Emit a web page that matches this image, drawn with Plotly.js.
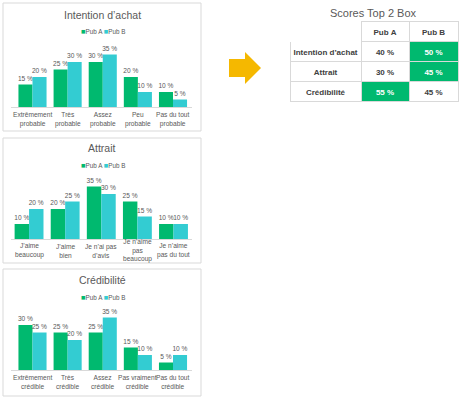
<!DOCTYPE html>
<html>
<head>
<meta charset="utf-8">
<script src="https://cdn.plot.ly/plotly-3.0.1.min.js"></script>
<style>html,body{margin:0;padding:0;background:#fff;}#chart{width:460px;height:400px;}</style>
</head>
<body>
<div id="chart"></div>
<script>
// ---- data ----
const seriesNames = ['Pub A', 'Pub B'];
const seriesColors = ['#00B96F', '#33CCD2'];

const titleIntention = 'Intention d’achat';
const catsIntention = ['Extrêmement<br>probable', 'Très<br>probable', 'Assez<br>probable', 'Peu<br>probable', 'Pas du tout<br>probable'];
const intentionA = [15, 25, 30, 20, 10];
const intentionB = [20, 30, 35, 10, 5];

const titleAttrait = 'Attrait';
const catsAttrait = ['J’aime<br>beaucoup', 'J’aime<br>bien', 'Je n’ai pas<br>d’avis', 'Je n’aime<br>pas<br>beaucoup', 'Je n’aime<br>pas du tout'];
const attraitA = [10, 20, 35, 25, 10];
const attraitB = [20, 25, 30, 15, 10];

const titleCredibilite = 'Crédibilité';
const catsCredibilite = ['Extrêmement<br>crédible', 'Très<br>crédible', 'Assez<br>crédible', 'Pas vraiment<br>crédible', 'Pas du tout<br>crédible'];
const credibiliteA = [30, 25, 25, 15, 5];
const credibiliteB = [25, 20, 35, 10, 10];

const tableTitle = 'Scores Top 2 Box';
const tableRows = ['Intention d’achat', 'Attrait', 'Crédibilité'];
const top2A = [40, 30, 55];
const top2B = [50, 45, 45];

// ---- helpers ----
const W = 460, H = 400;
const px = x => x / W;
const py = y => 1 - y / H;
const FONT = 'Liberation Sans, Arial, sans-serif';
const GREY = '#595959';
const LINE = '#D9D9D9';
const nb = s => String(s).replace(/ /g, '\u00a0');

const panels = [
  {title: titleIntention, cats: catsIntention, a: intentionA, b: intentionB, box: [3, 3, 201, 131], titleY: 15, legY: 32, base: 107},
  {title: titleAttrait, cats: catsAttrait, a: attraitA, b: attraitB, box: [3, 138, 201, 263], titleY: 148, legY: 165, base: 239},
  {title: titleCredibilite, cats: catsCredibilite, a: credibiliteA, b: credibiliteB, box: [3, 269, 201, 396], titleY: 280, legY: 297, base: 370}
];

const data = [];
const layout = {
  width: W, height: H,
  margin: {l: 0, r: 0, t: 0, b: 0},
  paper_bgcolor: '#fff', plot_bgcolor: 'rgba(0,0,0,0)',
  showlegend: false,
  barmode: 'group', bargap: 0.2, bargroupgap: 0,
  font: {family: FONT, color: GREY},
  hovermode: false,
  shapes: [], annotations: []
};

panels.forEach((p, i) => {
  const n = i + 1;
  const xa = n === 1 ? 'x' : 'x' + n;
  const ya = n === 1 ? 'y' : 'y' + n;
  [p.a, p.b].forEach((vals, k) => {
    data.push({
      type: 'bar', x: p.cats, y: vals, name: seriesNames[k],
      xaxis: xa, yaxis: ya,
      marker: {color: seriesColors[k]},
      text: vals.map(v => v + ' %'),
      textposition: 'outside', constraintext: 'none', cliponaxis: false,
      textfont: {size: 6.6, color: GREY, family: FONT},
      hoverinfo: 'skip'
    });
  });
  const top = p.base - 60;
  layout['xaxis' + (n === 1 ? '' : n)] = {
    domain: [px(11), px(192)], anchor: ya, type: 'category',
    showline: true, linecolor: LINE, linewidth: 1, ticks: '', showgrid: false, zeroline: false,
    showticklabels: false, fixedrange: true
  };
  layout['yaxis' + (n === 1 ? '' : n)] = {
    domain: [py(p.base), py(top)], anchor: xa, range: [0, 40],
    visible: false, showgrid: false, zeroline: false, fixedrange: true
  };
  // category labels, placed on the category axis scale, vertically centred like the original
  p.cats.forEach(c => {
    layout.annotations.push({xref: xa, yref: 'paper', x: c, y: py(p.base + 12), text: c,
      showarrow: false, xanchor: 'center', yanchor: 'middle', align: 'center',
      font: {size: 6.6, color: GREY, family: FONT}});
  });
  const [x0, y0, x1, y1] = p.box;
  layout.shapes.push({type: 'rect', xref: 'paper', yref: 'paper', x0: px(x0), x1: px(x1), y0: py(y1), y1: py(y0),
    line: {color: LINE, width: 1}, fillcolor: 'rgba(0,0,0,0)', layer: 'below'});
  layout.annotations.push({xref: 'paper', yref: 'paper', x: px(102), y: py(p.titleY), text: p.title,
    showarrow: false, xanchor: 'center', yanchor: 'middle', font: {size: 10.5, color: GREY, family: FONT}});
  const legText = seriesNames.map((s, k) => '<span style="color:' + seriesColors[k] + ';font-size:7.5px">■</span>' + s).join(' ');
  layout.annotations.push({xref: 'paper', yref: 'paper', x: px(103), y: py(p.legY), text: legText,
    showarrow: false, xanchor: 'center', yanchor: 'middle', font: {size: 6.3, color: GREY, family: FONT}});
});

// arrow
layout.shapes.push({type: 'path', xref: 'paper', yref: 'paper',
  path: `M${px(229)},${py(59)} L${px(245)},${py(59)} L${px(245)},${py(52)} L${px(261)},${py(68)} L${px(245)},${py(84)} L${px(245)},${py(77)} L${px(229)},${py(77)} Z`,
  fillcolor: '#F5B800', line: {width: 0}});

// table
const GREEN = seriesColors[0];
const DARK = '#404040';
const colA = top2A.map((v, r) => v > top2B[r]);
const colB = top2B.map((v, r) => v > top2A[r]);
data.push({
  type: 'table',
  domain: {x: [px(290), px(458)], y: [py(103), py(21)]},
  columnwidth: [71, 48, 49],
  header: {
    values: ['', nb(seriesNames[0]), nb(seriesNames[1])],
    height: 20, align: 'center',
    line: {color: ['#ffffff', LINE, LINE], width: 1},
    fill: {color: '#ffffff'},
    font: {size: 8, color: DARK, family: FONT, weight: 'bold'}
  },
  cells: {
    values: [tableRows.map(nb), top2A.map(v => nb(v + ' %')), top2B.map(v => nb(v + ' %'))],
    height: 20, align: 'center',
    line: {color: LINE, width: 1},
    fill: {color: [tableRows.map(() => '#ffffff'), colA.map(g => g ? GREEN : '#ffffff'), colB.map(g => g ? GREEN : '#ffffff')]},
    font: {size: 8, family: FONT, weight: 'bold', color: [tableRows.map(() => DARK), colA.map(g => g ? '#ffffff' : DARK), colB.map(g => g ? '#ffffff' : DARK)]}
  }
});
layout.annotations.push({xref: 'paper', yref: 'paper', x: px(373), y: py(13), text: tableTitle,
  showarrow: false, xanchor: 'center', yanchor: 'middle', font: {size: 11, color: GREY, family: FONT}});

Plotly.newPlot('chart', data, layout, {staticPlot: true, displayModeBar: false});
</script>
</body>
</html>
